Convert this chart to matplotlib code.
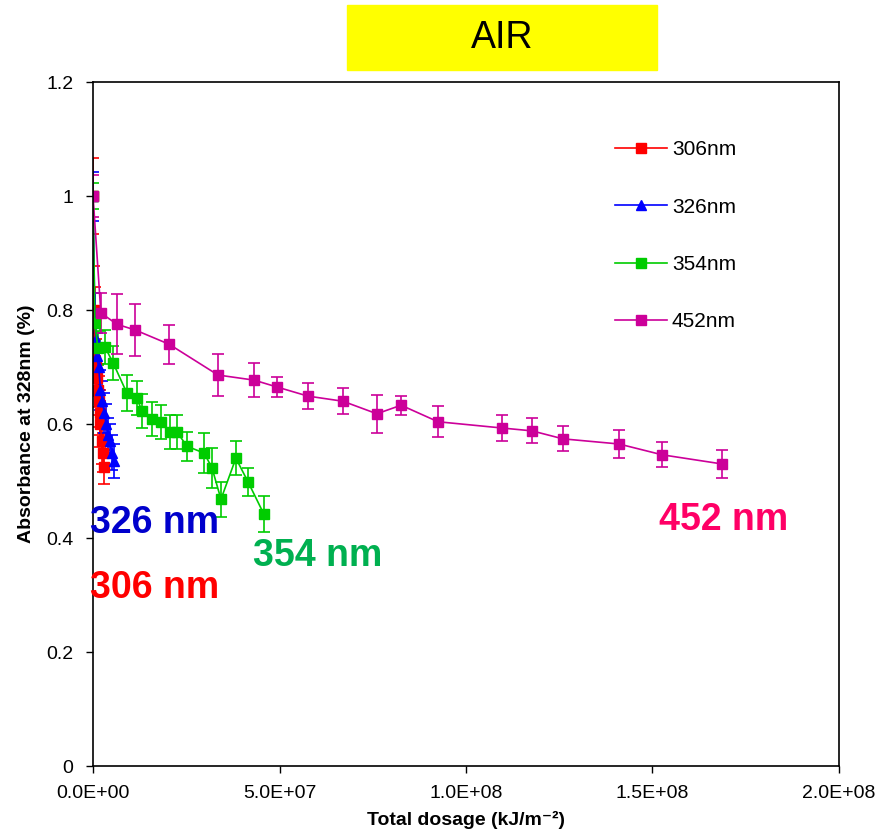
import numpy as np
import matplotlib.pyplot as plt
from matplotlib.patches import Rectangle
from matplotlib.lines import Line2D

plt.rcParams['font.family'] = ['Liberation Sans', 'DejaVu Sans']

# dosage in kJ/m-2, absorbance relative (fraction)
x306 = [0, 0.02e7, 0.04e7, 0.06e7, 0.08e7, 0.10e7, 0.12e7, 0.15e7, 0.18e7, 0.20e7, 0.23e7, 0.26e7, 0.30e7]
y306 = [1.0, 0.80, 0.78, 0.71, 0.70, 0.68, 0.66, 0.64, 0.62, 0.60, 0.57, 0.55, 0.525]
e306 = [0.067, 0.077, 0.06, 0.05, 0.05, 0.05, 0.045, 0.045, 0.04, 0.04, 0.04, 0.035, 0.03]

x326 = [0, 0.05e7, 0.08e7, 0.10e7, 0.15e7, 0.20e7, 0.25e7, 0.30e7, 0.35e7, 0.40e7, 0.45e7, 0.50e7, 0.55e7]
y326 = [1.0, 0.78, 0.75, 0.72, 0.70, 0.66, 0.64, 0.62, 0.60, 0.58, 0.57, 0.55, 0.535]
e326 = [0.043, 0.05, 0.04, 0.04, 0.04, 0.035, 0.035, 0.035, 0.035, 0.03, 0.03, 0.03, 0.03]

x354 = [0, 0.05e7, 0.13e7, 0.32e7, 0.54e7, 0.91e7, 1.18e7, 1.31e7, 1.58e7, 1.82e7, 2.06e7, 2.25e7,
        2.52e7, 2.98e7, 3.19e7, 3.43e7, 3.83e7, 4.16e7, 4.58e7]
y354 = [1.0, 0.777, 0.733, 0.735, 0.707, 0.654, 0.645, 0.623, 0.609, 0.603, 0.586, 0.586,
        0.561, 0.549, 0.523, 0.468, 0.540, 0.498, 0.442]
e354 = [0.022, 0.03, 0.03, 0.03, 0.03, 0.032, 0.03, 0.03, 0.03, 0.03, 0.03, 0.03,
        0.025, 0.035, 0.035, 0.031, 0.03, 0.025, 0.031]

x452 = [0, 0.21e7, 0.64e7, 1.13e7, 2.04e7, 3.35e7, 4.32e7, 4.93e7, 5.76e7, 6.70e7, 7.61e7, 8.26e7,
        9.25e7, 10.97e7, 11.77e7, 12.6e7, 14.1e7, 15.26e7, 16.86e7]
y452 = [1.0, 0.795, 0.775, 0.765, 0.74, 0.686, 0.677, 0.665, 0.649, 0.640, 0.618, 0.633,
        0.604, 0.593, 0.588, 0.574, 0.565, 0.546, 0.530]
e452 = [0.037, 0.035, 0.053, 0.045, 0.034, 0.037, 0.03, 0.018, 0.023, 0.023, 0.033, 0.017,
        0.027, 0.023, 0.022, 0.022, 0.024, 0.022, 0.025]

fig = plt.figure(figsize=(8.81, 8.38), dpi=100)
ax = fig.add_axes([0.1056, 0.0859, 0.8467, 0.8162])

series = [
    (x306, y306, e306, '#FF0000', 's', '306nm'),
    (x326, y326, e326, '#0000FF', '^', '326nm'),
    (x354, y354, e354, '#00CC00', 's', '354nm'),
    (x452, y452, e452, '#CC0099', 's', '452nm'),
]
handles = []
for xs, ys, es, c, m, lab in series:
    ax.errorbar(xs, ys, yerr=es, color=c, marker=m, markersize=7, lw=1.2,
                capsize=4, elinewidth=1.2, capthick=1.2)
    handles.append(Line2D([], [], color=c, marker=m, markersize=6.5, lw=1.2, label=lab))

ax.set_xlim(0, 2e8)
ax.set_ylim(0, 1.2)
ax.set_xticks([0, 5e7, 1e8, 1.5e8, 2e8])
ax.set_xticklabels(['0.0E+00', '5.0E+07', '1.0E+08', '1.5E+08', '2.0E+08'])
ax.set_yticks([0, 0.2, 0.4, 0.6, 0.8, 1.0, 1.2])
ax.set_yticklabels(['0', '0.2', '0.4', '0.6', '0.8', '1', '1.2'])
ax.tick_params(labelsize=14, direction='out', length=5, width=1, pad=9)
for s in ax.spines.values():
    s.set_linewidth(1.2)

ax.set_xlabel('Total dosage (kJ/m\u207b\u00b2)', fontsize=14, fontweight='bold', labelpad=6)
ax.set_ylabel('Absorbance at 328nm (%)', fontsize=14, fontweight='bold', labelpad=8)

ax.legend(handles=handles, loc='upper left', bbox_to_anchor=(0.7, 0.9148), frameon=False,
          fontsize=15, handlelength=2.5, labelspacing=1.84, handletextpad=0.22,
          borderpad=0, borderaxespad=0)

ax.text(1.66e7, 0.426, '326 nm', color='#0000CC', fontsize=27, fontweight='bold', ha='center', va='center')
ax.text(1.66e7, 0.312, '306 nm', color='#FF0000', fontsize=27, fontweight='bold', ha='center', va='center')
ax.text(6.03e7, 0.368, '354 nm', color='#00B050', fontsize=27, fontweight='bold', ha='center', va='center')
ax.text(16.9e7, 0.432, '452 nm', color='#FF0066', fontsize=27, fontweight='bold', ha='center', va='center')

fig.patches.append(Rectangle((347 / 881, 1 - 70 / 838), 310 / 881, 65 / 838,
                             transform=fig.transFigure, color='#FFFF00', zorder=0))
fig.text(502 / 881, 1 - 38 / 838, 'AIR', fontsize=27, ha='center', va='center')

fig.savefig('out.png', dpi=100)
